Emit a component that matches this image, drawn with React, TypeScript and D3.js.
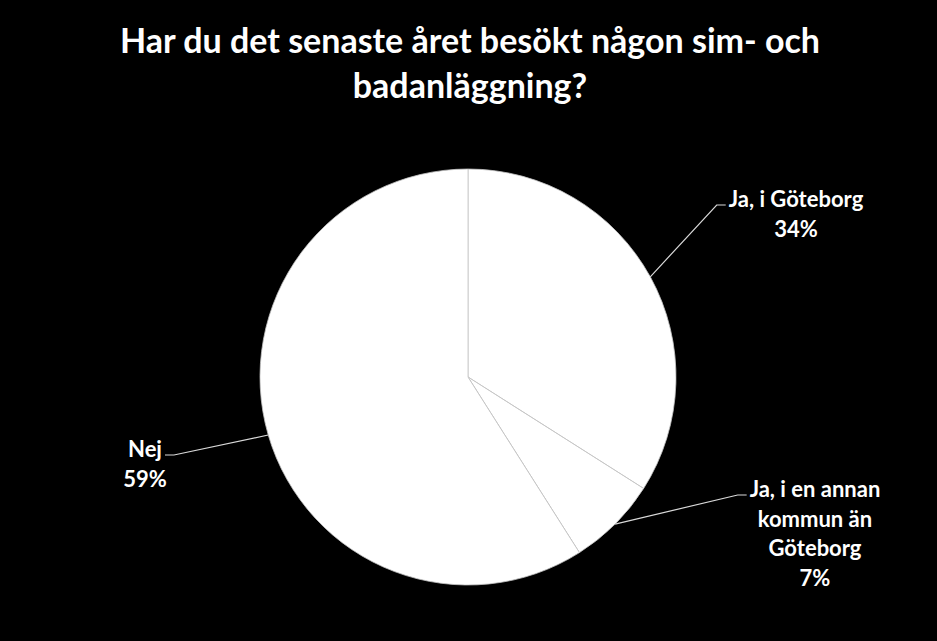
import React, { useEffect, useRef } from 'react';
import * as d3 from 'd3';

const categories = ['Ja, i Göteborg', 'Ja, i en annan kommun än Göteborg', 'Nej'];
const shares = [34, 7, 59];
const labelLines = [['Ja, i Göteborg', '34%'], ['Ja, i en annan', 'kommun än', 'Göteborg', '7%'], ['Nej', '59%']];
const titleLines = ['Har du det senaste året besökt någon sim- och', 'badanläggning?'];

// label layout: centre x, first baseline y, which side the leader line comes in from
const labelPos = [
    { x: 796, y: 207, side: 'left' },
    { x: 815, y: 497, side: 'left' },
    { x: 145, y: 457, side: 'right' },
];

const W = 937;
const H = 641;
const FONT = 'Lato, "Open Sans", sans-serif';

const App: React.FC = () => {
    const ref = useRef<SVGSVGElement | null>(null);

    useEffect(() => {
        document.body.style.margin = '0';
        document.body.style.background = '#000';
        const svg = d3.select(ref.current);
        svg.selectAll('*').remove();

        svg.append('rect').attr('width', W).attr('height', H).attr('fill', '#000');

        svg.append('g').selectAll('text')
            .data(titleLines)
            .enter().append('text')
            .attr('x', 470)
            .attr('y', (d, i) => 53 + i * 45)
            .attr('text-anchor', 'middle')
            .style('font-family', FONT)
            .style('font-weight', 'bold')
            .style('font-size', '34px')
            .style('fill', '#fff')
            .text(d => d);

        const cx = 468, cy = 377, r = 208;
        const pie = d3.pie<number>().sort(null).value(d => d);
        const arcs = pie(shares);
        const arc = d3.arc<d3.PieArcDatum<number>>().innerRadius(0).outerRadius(r);

        const g = svg.append('g').attr('transform', `translate(${cx},${cy})`);
        g.selectAll('path')
            .data(arcs)
            .enter().append('path')
            .attr('d', arc)
            .attr('fill', '#fff')
            .attr('stroke', '#c4c4c4')
            .attr('stroke-width', 0.8)
            .attr('data-name', (d, i) => categories[i]);

        arcs.forEach((a, i) => {
            const lp = labelPos[i];
            const lines = labelLines[i];

            const texts = svg.append('g').selectAll('text')
                .data(lines)
                .enter().append('text')
                .attr('x', lp.x)
                .attr('y', (d, j) => lp.y + j * 29.5)
                .attr('text-anchor', 'middle')
                .style('font-family', FONT)
                .style('font-weight', 'bold')
                .style('font-size', '22px')
                .style('fill', '#fff')
                .text(d => d);

            const firstW = (texts.node() as SVGTextElement).getComputedTextLength();

            // leader line from the slice's outer edge at mid-angle to the first label line
            const mid = (a.startAngle + a.endAngle) / 2;
            const px = cx + r * Math.sin(mid);
            const py = cy - r * Math.cos(mid);
            const ey = lp.y - 2;
            const dir = lp.side === 'left' ? -1 : 1;
            const hx = lp.x + dir * (firstW / 2 + 3);
            const ex = hx + dir * 9;
            svg.append('polyline')
                .attr('points', `${px},${py} ${ex},${ey} ${hx},${ey}`)
                .attr('fill', 'none')
                .attr('stroke', '#d9d9d9')
                .attr('stroke-width', 1.2);
        });
    }, []);

    return <svg ref={ref} width={W} height={H} style={{ display: 'block' }} />;
};

export default App;
